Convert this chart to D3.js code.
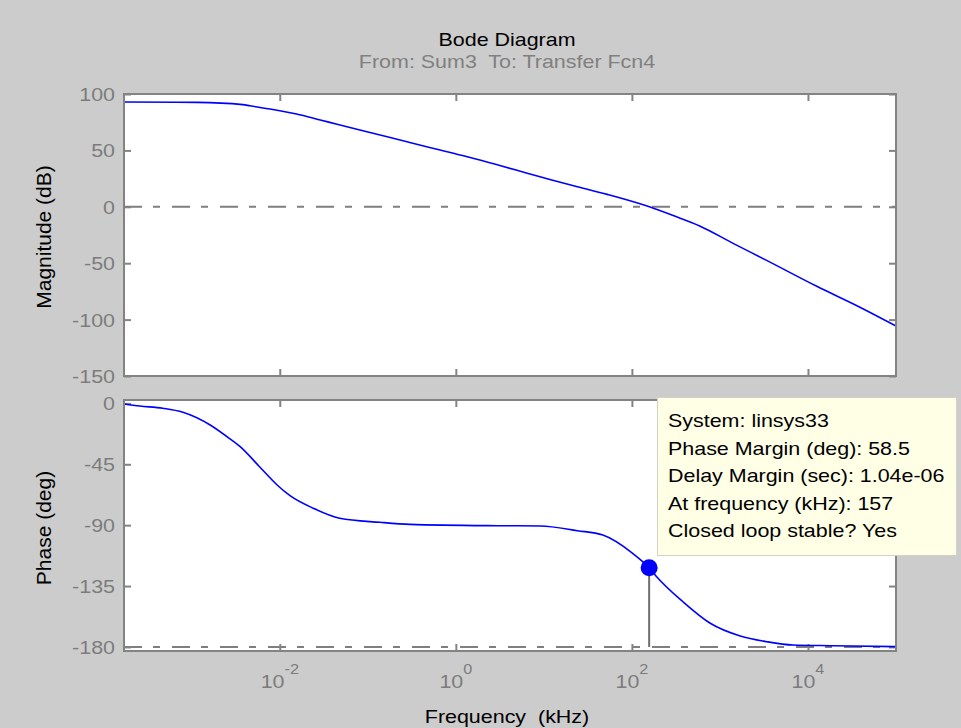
<!DOCTYPE html>
<html>
<head>
<meta charset="utf-8">
<script src="https://cdn.jsdelivr.net/npm/d3@7"></script>
<style>
  html, body { margin: 0; padding: 0; background: #cccccc; }
  svg { display: block; }
  text { font-family: "Liberation Sans", Arial, sans-serif; white-space: pre; }
</style>
</head>
<body>
<svg id="chart" width="961" height="728"></svg>
<script>
// ---------------- data ----------------
const magFreqKHz = [1.7e-4, 1.15e-3, 3.8e-3, 4.57e-3, 6.46e-3, 0.01, 0.0155, 0.0288, 0.0447, 0.0813,
  0.166, 0.324, 0.661, 1.35, 3.16, 6.46, 11.7, 24.0, 52.5, 158, 295, 589, 1410, 3390, 12600, 38900, 100000];
const magDB = [92.9, 92.6, 90.6, 89.6, 87.6, 85.2, 82.3, 77.0, 73.2, 68.1,
  62.1, 56.3, 50.4, 44.4, 36.6, 29.8, 24.2, 17.8, 11.0, 0, -7.8, -17.0, -32.4, -47.5, -70.5, -89.0, -105.7];

const phaseFreqKHz = [1.7e-4, 2.57e-4, 4.68e-4, 7.94e-4, 1.62e-3, 2.51e-3, 3.55e-3, 5.89e-3, 9.33e-3, 0.0132,
  0.024, 0.0479, 0.138, 0.302, 2.95, 9.12, 24.0, 46.8, 102, 157, 191, 380, 776, 1700, 3390, 6760, 19100, 100000];
const phaseDeg = [-0.4, -1.9, -3.6, -6.6, -16.0, -24.6, -32.0, -46.8, -60.3, -68.4,
  -77.5, -84.9, -87.9, -89.4, -90.4, -90.6, -94.1, -97.3, -110.8, -121.5, -128.1, -146.6, -162.5, -171.9, -176.1, -178.6, -179.1, -179.8];

const xTickExponents = [-2, 0, 2, 4];
const magTicks = [100, 50, 0, -50, -100, -150];
const phaseTicks = [0, -45, -90, -135, -180];

const markerFreqKHz = [157];
const markerPhaseDeg = [-121.5];

const titleText = "Bode Diagram";
const subtitleText = "From: Sum3  To: Transfer Fcn4";
const xLabelText = "Frequency  (kHz)";
const magLabelText = "Magnitude (dB)";
const phaseLabelText = "Phase (deg)";
const tooltipLines = [
  "System: linsys33",
  "Phase Margin (deg): 58.5",
  "Delay Margin (sec): 1.04e-06",
  "At frequency (kHz): 157",
  "Closed loop stable? Yes"
];

// ---------------- layout ----------------
const SX = 1.16;            // horizontal stretch of the reference's text
const FS = 18.5;            // font size
const axisCol = "#838383";
const labelCol = "#7c7c7c";

const svg = d3.select("#chart");
svg.append("rect").attr("width", 961).attr("height", 728).attr("fill", "#cccccc");

const left = 124, right = 896;
const mag = { top: 94, bottom: 376 };
const ph = { top: 400, bottom: 651 };

const x = d3.scaleLog().domain([1.7e-4, 1e5]).range([left, right]);
const yMag = d3.scaleLinear().domain([-150, 100]).range([mag.bottom, mag.top]);
const yPh = d3.scaleLinear().domain([-183, 2.5]).range([ph.bottom, ph.top]);

function label(g, xp, yp, s, opts = {}) {
  return g.append("text")
    .attr("xml:space", "preserve")
    .attr("transform", `translate(${xp},${yp}) scale(${opts.sx ?? SX},1)`)
    .attr("text-anchor", opts.anchor || "start")
    .attr("font-size", opts.size || FS)
    .attr("fill", opts.fill || "#000")
    .text(s);
}

function panel(yScale, box, ticks, refValue) {
  const g = svg.append("g");
  g.append("rect").attr("x", left).attr("y", box.top)
    .attr("width", right - left).attr("height", box.bottom - box.top)
    .attr("fill", "#ffffff");

  // reference dash-dot line
  g.append("line")
    .attr("x1", left).attr("x2", right)
    .attr("y1", yScale(refValue)).attr("y2", yScale(refValue))
    .attr("stroke", "#7f7f7f").attr("stroke-width", 2)
    .attr("stroke-dasharray", "18,11,7,12");

  const xTicks = xTickExponents.map(e => Math.pow(10, e));
  const axB = g.append("g").attr("transform", `translate(0,${box.bottom})`)
    .call(d3.axisBottom(x).tickValues(xTicks).tickSize(-7).tickFormat(""));
  const axT = g.append("g").attr("transform", `translate(0,${box.top})`)
    .call(d3.axisTop(x).tickValues(xTicks).tickSize(-7).tickFormat(""));
  const axL = g.append("g").attr("transform", `translate(${left},0)`)
    .call(d3.axisLeft(yScale).tickValues(ticks).tickSize(-7).tickPadding(9).tickFormat(d3.format("d")));
  const axR = g.append("g").attr("transform", `translate(${right},0)`)
    .call(d3.axisRight(yScale).tickValues(ticks).tickSize(-7).tickFormat(""));

  [axB, axT, axL, axR].forEach(a => {
    a.select(".domain").remove();
    a.selectAll(".tick line").attr("stroke", axisCol).attr("stroke-width", 2);
  });
  axL.selectAll(".tick text")
    .attr("x", 0).attr("dy", null)
    .attr("dominant-baseline", "central")
    .attr("transform", `translate(-9,0) scale(${SX},1)`)
    .attr("font-size", FS)
    .attr("font-family", "Liberation Sans, Arial, sans-serif")
    .attr("fill", labelCol)
    .text(d => d === 0 ? "0" : String(d).replace("\u2212", "-"));
  return g;
}

// ---------------- magnitude panel ----------------
const gMag = panel(yMag, mag, magTicks, 0);
const magData = magFreqKHz.map((f, i) => [f, magDB[i]]);
gMag.append("path").datum(magData)
  .attr("fill", "none").attr("stroke", "#0000ff").attr("stroke-width", 1.6)
  .attr("d", d3.line().x(d => x(d[0])).y(d => yMag(d[1])).curve(d3.curveMonotoneX));
gMag.append("rect").attr("x", left).attr("y", mag.top)
  .attr("width", right - left).attr("height", mag.bottom - mag.top)
  .attr("fill", "none").attr("stroke", axisCol).attr("stroke-width", 2);

// ---------------- phase panel ----------------
const gPh = panel(yPh, ph, phaseTicks, -180);
const phData = phaseFreqKHz.map((f, i) => [f, phaseDeg[i]]);
gPh.append("path").datum(phData)
  .attr("fill", "none").attr("stroke", "#0000ff").attr("stroke-width", 1.6)
  .attr("d", d3.line().x(d => x(d[0])).y(d => yPh(d[1])).curve(d3.curveMonotoneX));

// phase margin marker + drop line
gPh.append("line")
  .attr("x1", x(markerFreqKHz[0])).attr("x2", x(markerFreqKHz[0]))
  .attr("y1", yPh(markerPhaseDeg[0])).attr("y2", yPh(-180))
  .attr("stroke", "#6e6e6e").attr("stroke-width", 2);
gPh.append("circle")
  .attr("cx", x(markerFreqKHz[0])).attr("cy", yPh(markerPhaseDeg[0]))
  .attr("r", 8.5).attr("fill", "#0000ff");

gPh.append("rect").attr("x", left).attr("y", ph.top)
  .attr("width", right - left).attr("height", ph.bottom - ph.top)
  .attr("fill", "none").attr("stroke", axisCol).attr("stroke-width", 2);

// x tick labels 10^n
xTickExponents.forEach(e => {
  const t = svg.append("text")
    .attr("transform", `translate(${x(Math.pow(10, e))},688) scale(${SX},1)`)
    .attr("text-anchor", "middle")
    .attr("fill", labelCol);
  t.append("tspan").attr("font-size", FS).text("10");
  t.append("tspan").attr("font-size", 14).attr("dy", -14).text(String(e));
});

// ---------------- titles & labels ----------------
label(svg, 507, 46, titleText, { anchor: "middle" });
label(svg, 507, 68, subtitleText, { anchor: "middle", fill: "#808080" });
label(svg, 507, 723, xLabelText, { anchor: "middle" });

svg.append("text")
  .attr("transform", "translate(51,237) rotate(-90)")
  .attr("text-anchor", "middle").attr("font-size", 21).attr("fill", "#000")
  .text(magLabelText);
svg.append("text")
  .attr("transform", "translate(51,528) rotate(-90)")
  .attr("text-anchor", "middle").attr("font-size", 21).attr("fill", "#000")
  .text(phaseLabelText);

// ---------------- data tip ----------------
const tip = svg.append("g");
tip.append("rect").attr("x", 657.5).attr("y", 397.5).attr("width", 299).attr("height", 158)
  .attr("fill", "#ffffe6").attr("stroke", "#d2d2c8").attr("stroke-width", 1);
tooltipLines.forEach((s, i) => {
  label(tip, 668, 427 + i * 27.6, s, { fill: "#000" });
});
</script>
</body>
</html>
